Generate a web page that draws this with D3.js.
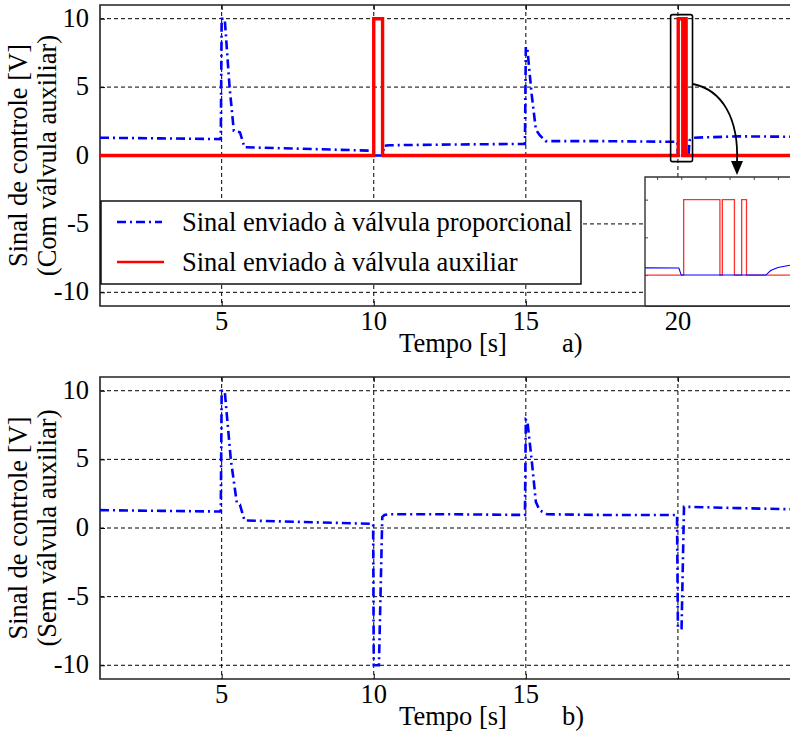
<!DOCTYPE html>
<html>
<head>
<meta charset="utf-8">
<script src="https://cdn.jsdelivr.net/npm/d3@7/dist/d3.min.js"></script>
<style>
  body { margin: 0; background: #fff; }
  svg { display: block; font-family: "Liberation Serif", "Times New Roman", serif; }
  .grid line { stroke: #000; stroke-width: 1; stroke-dasharray: 4,3; }
</style>
</head>
<body>
<svg id="chart" width="790" height="732"></svg>
<script>
// Axis ticks
var xTicks = [5, 10, 15, 20];
var xLabelsTop = ["5", "10", "15", "20"];
var xLabelsBot = ["5", "10", "15", ""];
var yTicks = [-10, -5, 0, 5, 10];

// a) proportional valve signal (with auxiliary valve)
var timeTopProp = [1, 3, 4.97, 5.0, 5.1, 5.26, 5.4, 5.6, 5.75, 7.5, 9.98, 10.0, 10.3, 10.33, 10.5, 12.5, 14.97, 15.0, 15.05, 15.19, 15.33, 15.45, 15.65, 17.5, 19.98, 20.0, 20.35, 20.38, 20.5, 22, 25];
var sigTopProp  = [1.3, 1.25, 1.2, 10, 10, 5, 1.8, 1.7, 0.6, 0.5, 0.35, 0, 0, 0.7, 0.75, 0.8, 0.85, 7.95, 7.8, 4.5, 1.9, 1.5, 1.05, 1.05, 1.0, 0, 0, 1.1, 1.3, 1.4, 1.35];

// a) auxiliary valve signal
var timeTopAux = [1, 10.0, 10.0, 10.29, 10.29, 20.01, 20.01, 20.16, 20.16, 20.17, 20.17, 20.22, 20.22, 20.25, 20.25, 20.27, 20.27, 25];
var sigTopAux  = [0, 0, 10, 10, 0, 0, 10, 10, 0, 0, 10, 10, 0, 0, 10, 10, 0, 0];

// b) proportional valve signal (without auxiliary valve)
var timeBotProp = [1, 3, 4.97, 5.0, 5.1, 5.3, 5.5, 5.6, 5.75, 7.5, 9.98, 10.0, 10.17, 10.28, 10.35, 10.5, 12.5, 14.97, 15.0, 15.05, 15.19, 15.33, 15.45, 15.7, 17.5, 19.97, 20.0, 20.12, 20.2, 22, 25];
var sigBotProp  = [1.3, 1.25, 1.2, 10, 10, 5, 1.8, 1.7, 0.55, 0.45, 0.3, -10, -10, 0.8, 0.95, 1.0, 1.0, 0.95, 7.9, 7.8, 5, 1.9, 1.3, 1.0, 0.95, 0.95, -7.3, -7.3, 1.55, 1.45, 1.3];

// zoomed inset around t = 20 s
var timeZoomProp = [19.85, 19.99, 20.0, 20.35, 20.37, 20.4, 20.45];
var sigZoomProp  = [0.95, 0.93, 0, 0, 0.6, 1.0, 1.3];
var timeZoomAux = [19.85, 20.01, 20.01, 20.16, 20.16, 20.17, 20.17, 20.22, 20.22, 20.25, 20.25, 20.27, 20.27, 20.45];
var sigZoomAux  = [0, 0, 10, 10, 0, 0, 10, 10, 0, 0, 10, 10, 0, 0];

var legendLabels = ["Sinal enviado à válvula proporcional", "Sinal enviado à válvula auxiliar"];

var svg = d3.select("#chart");
var blue = "#0000ff", red = "#ff0000";
var dashDot = "9,4,2,4";
var fs = 26.5;

var x = d3.scaleLinear().domain([1, 25]).range([100, 830]);

function zip(ts, vs) { return ts.map(function(t, i){ return {t: t, v: vs[i]}; }); }

var drawPanel = function(id, top, bottom, xLabels, yLine2, tag) {
  var y = d3.scaleLinear().domain([-11, 11]).range([bottom, top]);
  var g = svg.append("g");

  g.append("clipPath").attr("id", "clip" + id)
    .append("rect").attr("x", 100).attr("y", top).attr("width", 730).attr("height", bottom - top);

  // grid
  g.append("g").attr("class", "grid")
    .selectAll("line.gx").data(xTicks).enter().append("line")
    .attr("x1", function(d){ return x(d); }).attr("x2", function(d){ return x(d); })
    .attr("y1", top).attr("y2", bottom);
  g.append("g").attr("class", "grid")
    .selectAll("line.gy").data(yTicks).enter().append("line")
    .attr("x1", 100).attr("x2", 830)
    .attr("y1", function(d){ return y(d); }).attr("y2", function(d){ return y(d); });

  // inner tick marks
  g.append("g").attr("transform", "translate(0," + bottom + ")")
    .call(d3.axisBottom(x).tickValues(xTicks).tickSize(-5).tickFormat(""))
    .call(function(a){ a.select(".domain").remove(); });
  g.append("g").attr("transform", "translate(0," + top + ")")
    .call(d3.axisTop(x).tickValues(xTicks).tickSize(-5).tickFormat(""))
    .call(function(a){ a.select(".domain").remove(); });
  g.append("g").attr("transform", "translate(100,0)")
    .call(d3.axisLeft(y).tickValues(yTicks).tickSize(-5).tickFormat(""))
    .call(function(a){ a.select(".domain").remove(); });

  // tick labels
  g.selectAll("text.xl").data(xTicks).enter().append("text")
    .attr("x", function(d){ return x(d); }).attr("y", bottom + 24)
    .attr("text-anchor", "middle").attr("font-size", fs)
    .text(function(d, i){ return xLabels[i]; });
  g.selectAll("text.yl").data(yTicks).enter().append("text")
    .attr("x", 89).attr("y", function(d){ return y(d) + 8; })
    .attr("text-anchor", "end").attr("font-size", fs)
    .text(function(d){ return d; });

  // axis titles
  var cy = y(0);
  g.append("text").attr("transform", "translate(27," + cy + ") rotate(-90)")
    .attr("text-anchor", "middle").attr("font-size", fs).text("Sinal de controle [V]");
  g.append("text").attr("transform", "translate(56," + cy + ") rotate(-90)")
    .attr("text-anchor", "middle").attr("font-size", fs).text(yLine2);
  g.append("text").attr("x", 453).attr("y", bottom + 46)
    .attr("text-anchor", "middle").attr("font-size", fs).text("Tempo [s]");
  g.append("text").attr("x", 562).attr("y", bottom + 46)
    .attr("font-size", fs).text(tag);

  // frame
  g.append("path").attr("d", "M830," + top + "H100V" + bottom + "H830")
    .attr("fill", "none").attr("stroke", "#222").attr("stroke-width", 1.6);

  return {g: g, y: y};
};

var line = function(y) {
  return d3.line().x(function(d){ return x(d.t); }).y(function(d){ return y(d.v); });
};

// ---- panel a)
var pa = drawPanel("a", 5, 306, xLabelsTop, "(Com válvula auxiliar)", "a)");
pa.g.append("path").datum(zip(timeTopProp, sigTopProp))
  .attr("clip-path", "url(#clipa)")
  .attr("d", line(pa.y)).attr("fill", "none")
  .attr("stroke", blue).attr("stroke-width", 2.6).attr("stroke-dasharray", dashDot);
pa.g.append("path").datum(zip(timeTopAux, sigTopAux))
  .attr("clip-path", "url(#clipa)")
  .attr("d", line(pa.y)).attr("fill", "none")
  .attr("stroke", red).attr("stroke-width", 3.4);

// zoom marker + arrow
pa.g.append("rect")
  .attr("x", x(19.76)).attr("y", pa.y(10.3))
  .attr("width", x(20.48) - x(19.76)).attr("height", pa.y(-0.45) - pa.y(10.3))
  .attr("rx", 2).attr("fill", "none").attr("stroke", "#000").attr("stroke-width", 1.6);
pa.g.append("path").attr("d", "M693,84 C722,90 739,118 737,163")
  .attr("fill", "none").attr("stroke", "#000").attr("stroke-width", 1.8);
pa.g.append("path").attr("d", "M731,161 L743,161 L737,175 Z").attr("fill", "#000");

// legend
var lg = pa.g.append("g");
lg.append("rect").attr("x", 101).attr("y", 201).attr("width", 480).attr("height", 83)
  .attr("fill", "#fff").attr("stroke", "#000").attr("stroke-width", 1.4);
lg.append("line").attr("x1", 117).attr("x2", 162).attr("y1", 222).attr("y2", 222)
  .attr("stroke", blue).attr("stroke-width", 2.4).attr("stroke-dasharray", dashDot);
lg.append("line").attr("x1", 117).attr("x2", 164).attr("y1", 262).attr("y2", 262)
  .attr("stroke", red).attr("stroke-width", 2.4);
lg.selectAll("text").data(legendLabels).enter().append("text")
  .attr("x", 182).attr("y", function(d, i){ return 231 + i * 40; })
  .attr("font-size", fs).text(function(d){ return d; });

// inset
var ix = d3.scaleLinear().domain([19.85, 20.45]).range([645, 790]);
var iy = d3.scaleLinear().domain([-4.1, 13]).range([306, 177]);
var ins = pa.g.append("g");
ins.append("clipPath").attr("id", "clipi")
  .append("rect").attr("x", 645).attr("y", 177).attr("width", 190).attr("height", 129);
ins.append("rect").attr("x", 645).attr("y", 177).attr("width", 190).attr("height", 129)
  .attr("fill", "#fff");
ins.append("g").attr("transform", "translate(0,177)")
  .call(d3.axisTop(ix).ticks(8).tickSize(-3).tickFormat(""))
  .call(function(a){ a.select(".domain").remove(); a.selectAll("line").attr("stroke", "#444"); });
ins.append("g").attr("transform", "translate(645,0)")
  .call(d3.axisLeft(iy).ticks(5).tickSize(-3).tickFormat(""))
  .call(function(a){ a.select(".domain").remove(); a.selectAll("line").attr("stroke", "#444"); });
var iline = d3.line().x(function(d){ return ix(d.t); }).y(function(d){ return iy(d.v); });
ins.append("path").datum(zip(timeZoomAux, sigZoomAux)).attr("clip-path", "url(#clipi)")
  .attr("d", iline).attr("fill", "none").attr("stroke", "#ff3030").attr("stroke-width", 1.3);
ins.append("path").datum(zip(timeZoomProp, sigZoomProp)).attr("clip-path", "url(#clipi)")
  .attr("d", iline).attr("fill", "none").attr("stroke", blue).attr("stroke-width", 1.1);
ins.append("path").attr("d", "M835,177H645V306")
  .attr("fill", "none").attr("stroke", "#333").attr("stroke-width", 1.4);
ins.append("path").attr("d", "M645,306H830")
  .attr("fill", "none").attr("stroke", "#222").attr("stroke-width", 1.6);

// ---- panel b)
var pb = drawPanel("b", 377, 679, xLabelsBot, "(Sem válvula auxiliar)", "b)");
pb.g.append("path").datum(zip(timeBotProp, sigBotProp))
  .attr("clip-path", "url(#clipb)")
  .attr("d", line(pb.y)).attr("fill", "none")
  .attr("stroke", blue).attr("stroke-width", 2.6).attr("stroke-dasharray", dashDot);
</script>
</body>
</html>
